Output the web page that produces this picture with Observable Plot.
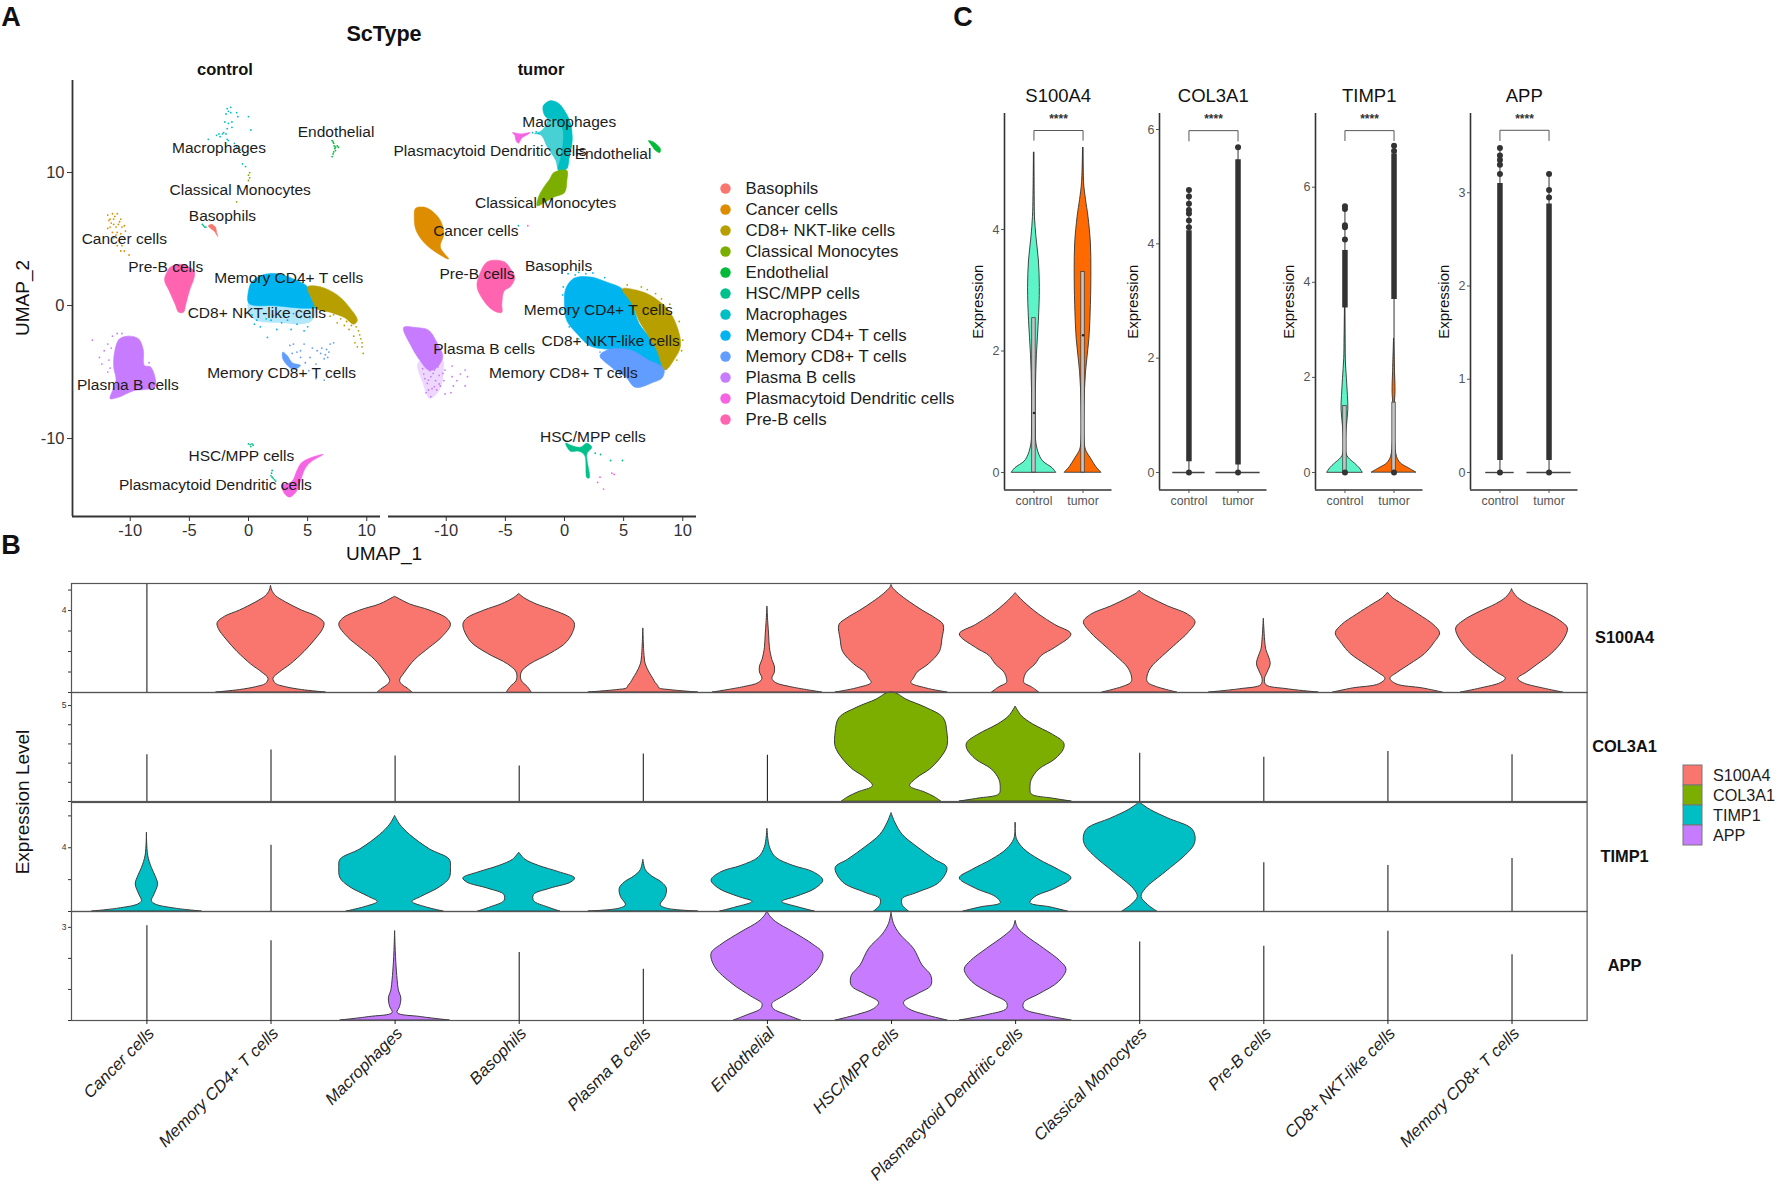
<!DOCTYPE html>
<html><head><meta charset="utf-8">
<script src="https://cdn.jsdelivr.net/npm/d3@7"></script>
<script src="https://cdn.jsdelivr.net/npm/@observablehq/plot@0.6"></script>
<style>html,body{margin:0;background:#fff}#fig{position:relative;width:1780px;height:1189px;overflow:hidden;font-family:"Liberation Sans",Arial,sans-serif}
svg{overflow:visible;background:none}.t{position:absolute;white-space:nowrap;color:#111;transform-origin:center}</style></head>
<body><div id="fig"></div>
<script>
const FONT='"Liberation Sans",Arial,sans-serif';
const cellTypes=["Basophils","Cancer cells","CD8+ NKT-like cells","Classical Monocytes","Endothelial","HSC/MPP cells","Macrophages","Memory CD4+ T cells","Memory CD8+ T cells","Plasma B cells","Plasmacytoid Dendritic cells","Pre-B cells"];
const cellColors=["#F8766D","#DE8C00","#B79F00","#7CAE00","#00BA38","#00C08B","#00BFC4","#00B4F0","#619CFF","#C77CFF","#F564E3","#FF64B0"];
const genes=["S100A4","COL3A1","TIMP1","APP"];
const geneColors=["#F8766D","#7CAE00","#00BFC4","#C77CFF"];
const violinOrder=["Cancer cells","Memory CD4+ T cells","Macrophages","Basophils","Plasma B cells","Endothelial","HSC/MPP cells","Plasmacytoid Dendritic cells","Classical Monocytes","Pre-B cells","CD8+ NKT-like cells","Memory CD8+ T cells"];
const groups=["control","tumor"];

// ---- panel A, control: dense cluster outlines (UMAP_1, UMAP_2)
const ctrlPreB=[[-6.6,2.9],[-5.7,3.1],[-4.6,2.6],[-4.6,2.1],[-5,1.1],[-5.3,.1],[-5.5,-.5],[-5.9,-.5],[-6.2,.1],[-6.7,1.1],[-7.1,1.9],[-6.9,2.5]];
const ctrlCD4=[[0,1.1],[.3,1.8],[1.2,2.3],[2.4,2.4],[3.8,2],[5,1.4],[5.3,.6],[5.8,-.1],[4.7,-.2],[3.3,-.1],[1.9,0],[.6,0],[0,.2]];
const ctrlCD4Haze=[[0,.3],[5.6,0],[5.3,-1.2],[2.5,-1.3],[.4,-1]];
const ctrlNKT=[[5,1.4],[6.1,1.4],[7.5,.8],[8.5,-.1],[9.2,-1.1],[8.9,-1.4],[8.1,-.9],[6.9,-.5],[5.8,-.25],[5.3,.6]];
const ctrlCD8=[[2.9,-3.5],[3.3,-3.8],[3.7,-4.3],[4.4,-4.5],[3.8,-4.8],[3.3,-4.5],[2.9,-4]];
const ctrlPlasma=[[-10.9,-2.5],[-10.1,-2.3],[-9.3,-2.5],[-8.9,-3.3],[-8.8,-4.5],[-8.3,-4.6],[-7.9,-5.4],[-7.9,-6.1],[-8.6,-6.3],[-9.7,-6.4],[-11,-6.9],[-11.7,-7],[-11.5,-6.4],[-11.2,-5.6],[-11.4,-4.6],[-11.3,-3.4]];
const ctrlBaso=[[-3.4,6],[-3.1,6.1],[-2.8,5.9],[-2.7,5.5],[-2.6,5.2],[-2.9,5.6],[-3.2,5.8]];
const ctrlPDC=[[6.3,-11.2],[5.2,-11.8],[4.7,-12.4],[4.4,-13.2],[4.1,-13.9],[3.5,-14.4],[3.1,-14.2],[2.8,-13.5],[3.3,-13.4],[3.7,-13.2],[4.1,-12.4],[4.5,-11.8],[5.4,-11.4]];
// ---- panel A, control: sparse cells
const ctrlMacroDots=[[-1.7,14.6],[-1.9,14.4],[-1.5,14.9],[-1.8,14.8],[-1.5,14.5],[-1,14.5],[-.9,14.2],[0,14.2],[-2,13.8],[-1.7,13.7],[-1.4,13.8],[-1.4,13.4],[-1.8,13.3],[-2.1,13],[-2.5,12.9],[-2.2,12.9],[-1.9,12.9],[-2.7,12.8],[-2.4,12.7],[-1.8,12.5],[-1.7,12.4],[-1.2,12.2],[-1,11.9],[-.7,11.7],[-.4,11.4],[-3.4,12.5],[.2,13.2],[-.5,10.65],[-.25,10.45]];
const ctrlMonoDots=[[0,9.8],[.1,10],[.1,9.6],[0,9.4],[-1,7.8]];
const ctrlEndoDots=[[7.07,12.4],[7.2,12.2],[7.35,11.9],[7.6,11.9],[7.35,11.65],[7.15,11.4],[7.07,11.2],[7.5,12],[7.25,12],[7.3,11.8],[7.2,11.55],[7.15,12.3]];
const ctrlCancerDots=[[-11.9,6.8],[-11.5,6.9],[-11.1,6.9],[-10.8,6.5],[-11.8,6.4],[-11.4,6.5],[-11,6.1],[-11.7,5.9],[-11.2,5.9],[-10.5,6],[-11.9,5.8],[-11.5,5.5],[-11.1,5.5],[-10.4,5.6],[-10.8,5.4],[-11.4,5.1],[-11,4.9],[-10.7,4.5],[-11.1,4.5],[-10.5,4.1],[-10.8,4.1],[-10.1,3.8],[-11.7,6.5],[-10.7,5.9],[-11.4,6.1],[-11.6,6.2],[-10.9,6.3],[-11.2,5.3],[-10.7,5],[-11.3,6.7]];
const ctrlHSCDots=[[-3.9,6.1],[-3.8,6],[-3.7,5.9],[-3.6,5.9],[0,-10.4],[.3,-10.4],[.2,-10.6],[.4,-10.5],[.15,-10.45],[2,-12.4],[1.9,-12.8],[2.1,-13],[2.3,-13.2],[1.95,-12.6],[2,-12.9],[2.2,-13.1]];
const ctrlCD4Dots=[[.5,-1.4],[1,-1.6],[1.9,-1.1],[3.3,-1.1],[4.7,-1.9],[5,-1.6],[.7,-1.1],[2.4,-1.8],[4.1,-1.4],[1.6,-2.4],[1.3,-.6],[5.2,-.9],[3,-.75],[3.8,-.6],[2.1,-.75],[.3,-.7],[1.5,-1],[2.8,-1.3],[3.6,-1.8],[4.4,-.9]];
const ctrlNKTDots=[[9.3,-1.9],[9.5,-2.5],[9.6,-3.1],[9.2,-3.1],[8.9,-2.3],[8.5,-1.8],[8.1,-1.5],[7.5,-1.3],[9.7,-3.6],[7.8,-1],[8.7,-1.5],[9.1,-1.6],[9.4,-2.2],[9,-2.8],[8.3,-1.2],[6.9,-.8],[7.2,-.7],[9.6,-2.8]];
const ctrlCD8Dots=[[3.5,-3],[4.1,-3.5],[4.7,-2.9],[5.2,-3.9],[6.1,-3.6],[6.6,-3.3],[6.9,-2.9],[6.4,-4],[6.8,-3.5],[7.2,-2.8],[5.7,-4.4],[5.1,-4.9],[5.7,-5.5],[6.4,-5.6],[5.8,-3.4],[3.8,-2.9],[4.4,-3.9],[4.8,-4.3],[4.4,-3.4],[3.7,-3.6],[6.5,-3.7],[6.2,-3.2],[6.7,-3.9],[5.4,-3.2]];
const ctrlPlasmaDots=[[-12.6,-3.9],[-12.2,-3.4],[-11.9,-2.9],[-11.5,-2.3],[-12.4,-4.4],[-11.8,-4.1],[-11.9,-5],[-13.2,-2.6],[-11.1,-2.1],[-10.7,-2.1],[-8.4,-4.3],[-11.6,-3.2],[-11.7,-4.7]];
// ---- panel A, tumor: dense cluster outlines
const tumMacroHaze=[[-1.8,15],[-1.2,15.4],[-.5,15.2],[.1,14.5],[.5,13.7],[.65,12.4],[.37,11],[.2,10.3],[-.5,10.15],[-.76,10.9],[-1.46,11.9],[-2,12.8],[-2.6,12.9],[-1.9,13.2],[-1.46,13.9],[-1.8,14.7]];
const tumMacro=[[-1.8,15],[-1.2,15.4],[-.5,15.2],[.1,14.5],[.5,13.7],[.65,12.4],[.37,11],[.2,10.3],[-.5,10.15],[-.3,11.2],[-.1,12.4],[-.2,13.4],[-.9,14],[-1.6,14.2]];
const tumPDC=[[-4.4,13],[-3.7,12.9],[-2.9,13],[-3.6,12.6],[-3.9,12.2],[-4.1,12.4],[-4.2,12.8]];
const tumEndo=[[7.1,12.4],[7.5,12.3],[8.1,11.8],[8.05,11.5],[7.7,11.65],[7.4,12]];
const tumMono=[[-.9,10],[.2,10.15],[.2,9.4],[0,8.5],[-.9,8.15],[-1.6,7.8],[-2.3,7.5],[-2.2,8.15],[-1.75,8.9],[-1.25,9.5]];
const tumCancer=[[-12.6,7.3],[-11.9,7.4],[-11.2,7.1],[-10.5,6.4],[-10.2,5.4],[-10.5,4.4],[-9.8,3.5],[-10.5,3.8],[-11.6,4.5],[-12.2,5.1],[-12.6,5.8],[-12.7,6.6]];
const tumPreB=[[-6.5,3.3],[-5.1,3.3],[-4.6,2.8],[-4.2,2.1],[-4.6,1.4],[-5.1,1.1],[-5.3,.1],[-5.3,-.5],[-5.7,-.5],[-6.4,-.1],[-7.2,.9],[-7.4,1.5],[-7.2,2.3]];
const tumCD4=[[.1,1.25],[.8,2.05],[2.2,2.15],[3.6,1.75],[4.9,1.25],[5.7,.15],[6.3,-1.35],[7.3,-2.55],[8.4,-4.65],[7,-4.25],[5.6,-3.65],[4.2,-3.35],[2.2,-3.05],[1.1,-2.15],[.2,-1.15],[0,.15]];
const tumNKT=[[4.9,1.25],[6.1,1.15],[7.3,.75],[8.7,-.25],[9.5,-1.55],[9.8,-3.05],[9.2,-4.15],[8.5,-4.85],[7.8,-3.35],[7,-2.15],[6.3,-1.15],[5.7,.15]];
const tumCD8=[[3,-3.75],[4,-3.25],[5.6,-3.35],[7,-4.05],[8.4,-4.75],[8.25,-5.45],[7.55,-5.75],[6,-6.15],[5.15,-5.35],[4,-4.65]];
const tumPlasma=[[-13.6,-1.65],[-12.6,-1.65],[-11.5,-1.85],[-10.8,-2.75],[-10.3,-3.85],[-10.9,-4.75],[-11.5,-4.85],[-12.2,-4.15],[-12.9,-3.15]];
const tumPlasmaHaze=[[-12.4,-4.3],[-10.4,-3.9],[-10.2,-4.9],[-10.6,-6.4],[-11.4,-7],[-12,-5.8]];
const tumHSC=[[.1,-10.35],[.65,-10.55],[1.35,-10.65],[1.9,-10.35],[2.3,-10.65],[1.9,-11.15],[2.1,-12.95],[1.9,-12.95],[1.7,-11.25],[1.2,-10.95],[.5,-10.95]];
// ---- panel A, tumor: sparse cells
const tumPlasmaDots=[[-11.9,-5.15],[-11.3,-5.35],[-10.9,-5.65],[-11.6,-5.85],[-11.2,-6.25],[-11.7,-6.55],[-11.3,-6.85],[-10.5,-6.05],[-10.1,-6.65],[-10.6,-5.25],[-10.1,-4.85],[-9.5,-5.35],[-9.1,-5.65],[-8.4,-4.85],[-8.2,-5.35],[-9.4,-6.05],[-9.5,-4.55],[-8.8,-5.15],[-10.2,-5.65],[-11.5,-6.35],[-11,-4.85],[-12,-4.75],[-10.8,-6.35],[-8.4,-6.05],[-9.6,-6.55],[-11.1,-5.1],[-11.5,-5.6],[-10.7,-4.6],[-10.3,-5.1],[-11.4,-4.9],[-11.8,-5.5],[-10.6,-5.9],[-11,-6.1]];
const tumHSCDots=[[2.6,-11.1],[3.05,-11.2],[3.9,-11.65],[4.9,-11.65]];
const tumPDCDots=[[4,-12.6],[4.2,-12.7],[3,-12.9],[2.8,-13.3],[3.3,-13.8],[-3.1,6]];
const tumMacroDots=[[-3.9,6],[-2.7,13],[-2.4,13.05],[-2.2,12.95]];
const tumCD8Dots=[[3.1,-3.9],[3.4,-4.1],[3.7,-4.3],[4.2,-4.8],[4.7,-5.2],[3,-3.5],[3.3,-3.6]];
const tumCD4Dots=[[.3,2.4],[1.2,2.5],[2.4,2.45],[3.4,2.1],[-.15,.8],[-.2,-.3],[.4,-1.6],[1.2,-2.5],[.9,2.3],[1.8,2.4],[-.1,1.4]];
const tumNKTDots=[[5.3,1.55],[6.5,1.4],[7.7,.9],[8.9,.1],[9.7,-1.2],[10,-2.6],[9.9,-3.4],[9.5,-4.1],[7,1.2],[8.2,.5]];
// ---- panel A labels
const labelNames=["Macrophages","Endothelial","Classical Monocytes","Basophils","Cancer cells","Pre-B cells","Memory CD4+ T cells","CD8+ NKT-like cells","Memory CD8+ T cells","Plasma B cells","HSC/MPP cells","Plasmacytoid Dendritic cells"];
const ctrlLabelX=[-2.5,7.4,-.7,-2.2,-10.5,-7,3.4,.7,2.8,-10.2,-.6,-2.8];
const ctrlLabelY=[11.85,13.05,8.7,6.7,5,2.9,2.1,-.6,-5.1,-6,-11.35,-13.5];
const tumLabelX=[.4,4.1,-1.6,-.5,-7.5,-7.4,2.85,3.9,-.1,-6.8,2.4,-6.3];
const tumLabelY=[13.8,11.4,7.7,2.95,5.6,2.4,-.3,-2.7,-5.05,-3.25,-9.85,11.6];

// ---- panel B: violins, [expression, half width in % of a category step]
const rowS100={
 1:[[0,44],[.12,25],[.26,12],[.42,4],[.67,2],[.97,7],[1.37,16],[1.98,27],[2.59,36],[3.09,42],[3.39,43],[3.7,37],[4,25],[4.4,12],[4.71,4],[4.97,1],[5.21,0]],
 2:[[0,14],[.2,10],[.36,6],[.57,4],[.97,8],[1.58,16],[2.18,28],[2.69,38],[3.29,45],[3.6,42],[4,28],[4.3,12],[4.61,2],[4.67,0]],
 3:[[0,10],[.26,7],[.57,2],[.97,2],[1.37,9],[1.88,25],[2.48,39],[3.29,45],[3.6,42],[4,28],[4.3,14],[4.61,4],[4.81,0]],
 4:[[0,44],[.12,21],[.2,13],[.32,12],[.46,10],[.67,8],[.97,5],[1.37,2],[1.78,1],[3.13,0]],
 5:[[0,44],[.26,19],[.46,7],[.67,4],[.97,6],[1.27,6],[1.58,4],[2.18,2],[2.79,1.4],[3.39,.7],[4.2,0]],
 6:[[0,45],[.2,28],[.46,16],[.67,18],[.97,21],[1.37,30],[1.98,39],[2.59,41],[3.29,42],[3.6,36],[4,25],[4.4,15],[4.81,6],[5.11,1],[5.25,0]],
 7:[[0,19],[.26,13],[.46,7],[.67,7],[.97,9],[1.37,16],[1.78,21],[2.18,32],[2.83,45],[3.29,32],[3.8,19],[4.4,7],[4.71,2],[4.85,0]],
 8:[[0,30],[.26,14],[.46,7],[.67,6],[1.17,9],[1.78,19],[2.38,30],[2.89,39],[3.43,45],[3.8,39],[4.2,23],[4.61,9],[4.85,2],[4.97,0]],
 9:[[0,44],[.16,19],[.36,2],[.67,1],[.97,3],[1.37,5.5],[1.68,4.5],[2.08,2],[2.59,1],[3.6,0]],
 10:[[0,44],[.2,28],[.4,7],[.67,2],[.97,8],[1.37,18],[1.88,30],[2.38,37],[2.89,42],[3.29,37],[3.8,25],[4.3,12],[4.61,4],[4.87,0]],
 11:[[0,41],[.2,25],[.46,9],[.67,5],[.97,12],[1.37,21],[1.88,32],[2.59,42],[3.13,45],[3.49,39],[3.9,27],[4.3,13],[4.61,5],[4.91,1],[5.05,0]]};
const rowCOL={
 6:[[0,40],[.22,35],[.47,27],[.8,15],[1.23,21],[1.66,31],[2.19,39],[2.84,45],[3.59,45],[4.34,42],[4.88,28],[5.31,12],[5.63,4],[5.68,0]],
 7:[[0,45],[.15,30],[.37,13],[.69,12],[1.12,13],[1.66,19],[2.19,32],[2.73,39],[3.05,39],[3.48,30],[4.02,14],[4.45,5],[4.95,0]]};
const rowTIMP={
 0:[[0,44],[.18,23],[.44,7],[.65,4],[1.04,6],[1.69,9],[2.21,7],[2.73,4],[3.51,1],[4.94,0]],
 2:[[0,39],[.26,25],[.6,14],[.91,21],[1.56,37],[2.08,44],[2.73,45],[3.25,44],[3.9,28],[4.81,12],[5.45,4],[6,0]],
 3:[[0,33],[.26,23],[.65,12],[1.04,12],[1.43,25],[1.82,42],[2.08,45],[2.47,32],[2.86,16],[3.25,5],[3.69,0]],
 4:[[0,44],[.18,19],[.39,14],[.91,18],[1.43,19],[1.82,15],[2.21,7],[2.6,2],[3.25,0]],
 5:[[0,38],[.26,25],[.6,12],[.91,23],[1.43,39],[1.95,45],[2.47,37],[2.86,21],[3.38,7],[4.03,2],[5.19,0]],
 6:[[0,14],[.39,9],[.78,9],[1.17,21],[1.82,39],[2.73,45],[3.25,35],[4.03,21],[4.81,9],[5.58,3],[6.18,0]],
 7:[[0,42],[.26,28],[.52,12],[.91,16],[1.43,32],[2.08,45],[2.6,35],[3.25,19],[3.9,7],[4.55,1],[5.58,0]],
 8:[[0,14],[.39,7],[.91,1.5],[1.43,5],[2.47,21],[3.51,37],[4.16,44],[4.68,45],[5.19,42],[5.84,23],[6.36,9],[6.75,1.5],[6.83,0]]};
const rowAPP={
 2:[[0,44],[.11,21],[.24,2],[.44,4],[.71,5],[.97,3],[1.31,2],[1.84,1],[2.24,.5],[2.88,0]],
 5:[[0,27],[.17,16],[.37,5],[.53,4],[.77,13],[1.17,28],[1.71,42],[2.15,45],[2.44,37],[2.84,21],[3.17,7],[3.37,2],[3.51,0]],
 6:[[0,45],[.17,28],[.37,14],[.57,10],[.84,21],[1.11,32],[1.44,32],[1.77,25],[2.31,18],[2.77,7],[3.11,2],[3.47,0]],
 7:[[0,45],[.17,23],[.37,7],[.57,7],[.84,19],[1.24,35],[1.64,41],[1.91,36],[2.31,23],[2.71,9],[2.97,2],[3.21,0]]};
const spikesS100=[[0,5.32]];
const spikesCOL=[[0,2.43],[1,2.69],[2,2.37],[3,1.85],[4,2.47],[5,2.41],[8,2.52],[9,2.3],[10,2.6],[11,2.43]];
const spikesTIMP=[[1,4.16],[9,3.06],[10,2.88],[11,3.32]];
const spikesAPP=[[0,3.05],[1,2.57],[3,2.19],[4,1.65],[8,2.53],[9,2.39],[10,2.87],[11,2.12]];

// ---- panel C
const violinS100Ctrl=[[0,45],[.07,38],[.18,19],[.29,11],[.48,5],[.71,4],[1.37,4],[1.93,6],[2.49,10],[3.04,12],[3.49,10],[3.88,5],[4.21,2],[4.55,1],[5.27,0]];
const violinS100Tum=[[0,37],[.09,27],[.23,16],[.37,6],[.54,3],[1.1,3],[1.65,6],[2.2,13],[2.76,16],[3.32,17],[3.77,16],[4.21,11],[4.49,6],[4.77,2],[5.35,0]];
const violinTIMPCtrl=[[0,36],[.09,30],[.19,20],[.3,8],[.4,3],[.69,2],[.97,4],[1.33,7],[1.61,6],[1.97,4],[2.39,1.5],[2.82,.8],[3.53,0]];
const violinTIMPTum=[[0,45],[.09,30],[.19,14],[.33,6],[.69,2],[1.4,1.5],[1.7,3],[2.11,2],[2.82,0]];
const boxS100=[[0,0,.98,2.54],[1,0,2.26,3.3]];
const boxTIMP=[[0,0,0,1.4],[1,0,0,1.47]];
const flatCOL=[[0,33],[1,45]];
const flatAPP=[[0,29],[1,45]];
const columnCOL=[[0,.19,4.23],[1,.13,5.47]];
const columnTIMP=[[0,3.46,4.67],[1,3.64,6.7]];
const columnAPP=[[0,.13,3.1],[1,.13,2.88]];
const outCOL=[[0,0],[1,0],[0,4.94],[0,4.83],[0,4.7],[0,4.59],[0,4.53],[0,4.41],[0,4.29],[1,5.69]];
const outTIMP=[[0,0],[1,0],[0,4.9],[0,5.16],[0,5.2],[0,5.54],[0,5.6],[1,6.87],[1,6.76]];
const outAPP=[[0,0],[1,0],[0,3.48],[0,3.4],[0,3.35],[0,3.3],[0,3.2],[1,3.2],[1,3.03],[1,2.95]];
const topCOL=[[0,4.94],[1,5.69]];
const topTIMP=[[0,5.6],[1,6.87]];
const topAPP=[[0,3.48],[1,3.2]];
const topS100=[[0,5.27],[1,5.35]];

const fig=document.getElementById("fig");
function place(el,left,top){el.style.position="absolute";el.style.left=left+"px";el.style.top=top+"px";fig.append(el);}
function label(txt,x,y,size,opt={}){const d=document.createElement("div");d.className="t";d.textContent=txt;d.style.left=x+"px";d.style.top=y+"px";d.style.fontSize=size+"px";if(opt.bold)d.style.fontWeight="bold";d.style.transform=`translate(-50%,-50%) rotate(${opt.rot||0}deg)`;fig.append(d);}
const base={style:{fontFamily:FONT,background:"none",overflow:"visible"}};

// Panel A
const uDomX=[-14.88,11.16],uDomY=[-15.86,16.92];
const table=(cat,pts)=>pts.map(([x,y])=>({cat,x,y}));
const ctrlHazes=[[table("Memory CD4+ T cells",ctrlCD4Haze),.3]];
const tumHazes=[[table("Macrophages",tumMacroHaze),.72],[table("Plasma B cells",tumPlasmaHaze),.3]];
const ctrlPolys=[["Pre-B cells",ctrlPreB],["Memory CD4+ T cells",ctrlCD4],["CD8+ NKT-like cells",ctrlNKT],["Memory CD8+ T cells",ctrlCD8],["Plasma B cells",ctrlPlasma],["Basophils",ctrlBaso],["Plasmacytoid Dendritic cells",ctrlPDC]].flatMap(([c,p])=>table(c,p));
const ctrlDots=[["Macrophages",ctrlMacroDots],["Classical Monocytes",ctrlMonoDots],["Endothelial",ctrlEndoDots],["Cancer cells",ctrlCancerDots],["HSC/MPP cells",ctrlHSCDots],["Memory CD4+ T cells",ctrlCD4Dots],["CD8+ NKT-like cells",ctrlNKTDots],["Memory CD8+ T cells",ctrlCD8Dots],["Plasma B cells",ctrlPlasmaDots]].flatMap(([c,p])=>table(c,p));
const tumPolys=[["Macrophages",tumMacro],["Plasmacytoid Dendritic cells",tumPDC],["Endothelial",tumEndo],["Classical Monocytes",tumMono],["Cancer cells",tumCancer],["Pre-B cells",tumPreB],["Memory CD4+ T cells",tumCD4],["CD8+ NKT-like cells",tumNKT],["Memory CD8+ T cells",tumCD8],["Plasma B cells",tumPlasma],["HSC/MPP cells",tumHSC]].flatMap(([c,p])=>table(c,p));
const tumDots=[["Plasma B cells",tumPlasmaDots],["HSC/MPP cells",tumHSCDots],["Plasmacytoid Dendritic cells",tumPDCDots],["Macrophages",tumMacroDots],["Memory CD8+ T cells",tumCD8Dots],["Memory CD4+ T cells",tumCD4Dots],["CD8+ NKT-like cells",tumNKTDots]].flatMap(([c,p])=>table(c,p));
function umap(hazes,polys,dots,lx,ly,left,mL,width,showY){
 const labels=labelNames.map((n,i)=>({n,x:lx[i],y:ly[i]}));
 return place(Plot.plot({...base,width,height:486,marginLeft:mL,marginRight:0,marginTop:10,marginBottom:40,
  x:{domain:uDomX,axis:null},y:{domain:uDomY,axis:null},color:{type:"ordinal",domain:cellTypes,range:cellColors},
  marks:[
   ...hazes.map(([d,op])=>Plot.line(d,{x:"x",y:"y",z:"cat",fill:"cat",fillOpacity:op,stroke:null,curve:"catmull-rom-closed"})),
   Plot.line(polys,{x:"x",y:"y",z:"cat",fill:"cat",stroke:"cat",strokeWidth:.6,curve:"catmull-rom-closed"}),
   Plot.dot(dots,{x:"x",y:"y",r:.9,fill:"cat",stroke:null}),
   Plot.text(labels,{x:"x",y:"y",text:"n",fontSize:15.5,fill:"#1c1c1c"}),
   Plot.ruleY([uDomY[0]],{stroke:"#333",strokeWidth:1.8}),
   showY?Plot.ruleX([uDomX[0]],{stroke:"#333",strokeWidth:1.8}):null,
   Plot.axisX({ticks:[-10,-5,0,5,10],tickSize:5,tickPadding:3,fontSize:16.5,label:null,color:"#333",tickFormat:d=>d}),
   showY?Plot.axisY({ticks:[-10,0,10],tickSize:5,tickPadding:3,fontSize:16.5,label:null,color:"#333",tickFormat:d=>d}):null
  ]}),left,70);
}
umap(ctrlHazes,ctrlPolys,ctrlDots,ctrlLabelX,ctrlLabelY,0,72,380,true);
umap(tumHazes,tumPolys,tumDots,tumLabelX,tumLabelY,388,0,308,false);
place(Plot.plot({...base,width:320,height:280,margin:0,x:{axis:null},y:{type:"point",domain:cellTypes,range:[14.5,251.8],padding:0,axis:null},color:{type:"ordinal",domain:cellTypes,range:cellColors},
 marks:[Plot.dot(cellTypes,{y:d=>d,frameAnchor:"left",dx:25,r:5.2,fill:d=>d,stroke:null}),
 Plot.text(cellTypes,{y:d=>d,text:d=>d,frameAnchor:"left",dx:45,textAnchor:"start",fontSize:16.8,fill:"#1c1c1c"})]}),700,170);

// Panel B
const bDomX=[-.6076,11.605];
function row(gene,shapes,spikes,domY,ticks,lab,top,last){
 const color=geneColors[genes.indexOf(gene)];
 const pts=Object.entries(shapes).flatMap(([i,s])=>s.map(([y,w])=>({i:+i,y,w})));
 const sp=spikes.map(([i,t])=>({i,t}));
 const h=last?1189-top:109;
 place(Plot.plot({...base,width:1700,height:h,marginLeft:71,marginRight:113.4,marginTop:0,marginBottom:h-109,
  x:{domain:bDomX,axis:null},y:{domain:domY,axis:null},
  marks:[
   Plot.ruleY([0],{stroke:"#222",strokeWidth:1}),
   Plot.ruleX(sp,{x:"i",y1:0,y2:"t",stroke:"#222",strokeWidth:1.1}),
   Plot.areaX(pts,{x1:d=>d.i-d.w/100,x2:d=>d.i+d.w/100,y:"y",z:"i",fill:color,stroke:"#3c3c3c",strokeWidth:1,curve:"catmull-rom"}),
   Plot.frame({stroke:"#555",strokeWidth:1.2}),
   Plot.axisY({ticks,tickSize:3,tickPadding:2,fontSize:8.5,label:null,color:"#333",tickFormat:d=>d===lab?String(d):""}),
   last?Plot.axisX({ticks:d3.range(12),tickFormat:()=>"",tickSize:4,label:null,color:"#222"}):null,
   last?Plot.text(violinOrder,{x:(d,i)=>i,y:()=>0,text:d=>d,dx:4.5,dy:10,rotate:-45,textAnchor:"end",lineAnchor:"middle",fontSize:16.7,fontStyle:"italic",fill:"#222"}):null,
   Plot.text([gene],{frameAnchor:"right",textAnchor:"middle",dx:37.5,text:d=>d,fontSize:16.4,fontWeight:"bold",fill:"#111"})
  ]}),0,top);
}
row("S100A4",rowS100,spikesS100,[0,5.32],[0,1,2,3,4,5],4,583,false);
row("COL3A1",rowCOL,spikesCOL,[0,5.68],[0,1,2,3,4,5],5,692.3,false);
row("TIMP1",rowTIMP,spikesTIMP,[0,6.84],[0,2,4,6],4,801.5,false);
row("APP",rowAPP,spikesAPP,[0,3.51],[0,1,2,3],3,910.5,true);
place(Plot.plot({...base,width:90,height:83,margin:0,x:{domain:[0,1],range:[0,19],axis:null},y:{type:"band",domain:genes,range:[0,83],padding:.02,axis:null},color:{type:"ordinal",domain:genes,range:geneColors},
 marks:[Plot.barX(genes,{x1:()=>0,x2:()=>1,y:d=>d,fill:d=>d,stroke:"#777",strokeWidth:1}),
 Plot.text(genes,{y:d=>d,text:d=>d,frameAnchor:"left",dx:29.5,textAnchor:"start",fontSize:16.2,fill:"#1c1c1c"})]}),1682.5,763);

// Panel C
function mini(gene,axisX,domY,ticks,bracket,o){
 const vio=[...(o.vc||[]).map(([y,w])=>({g:0,y,w})),...(o.vt||[]).map(([y,w])=>({g:1,y,w}))];
 const rowsOf=a=>(a||[]).map(([g,a1,a2,a3])=>({g,a1,a2,a3}));
 place(Plot.plot({...base,width:158,height:440,marginLeft:50,marginRight:.5,marginTop:33,marginBottom:30.5,
  x:{domain:[-.6,1.59],axis:null},y:{domain:domY,axis:null},
  color:{type:"ordinal",domain:groups,range:["#5DF5C8","#FF6A00"]},
  marks:[
   Plot.ruleX((o.top||[]).map(([g,t])=>({g,t})),{x:"g",y1:0,y2:"t",stroke:"#333",strokeWidth:1}),
   Plot.areaX(vio,{x1:d=>d.g-d.w/100,x2:d=>d.g+d.w/100,y:"y",z:"g",fill:d=>groups[d.g],stroke:"#333",strokeWidth:.9,curve:"catmull-rom"}),
   Plot.ruleY((o.flat||[]).map(([g,w])=>({g,w})),{y:()=>0,x1:d=>d.g-d.w/100,x2:d=>d.g+d.w/100,stroke:"#444",strokeWidth:1.4}),
   Plot.rect(rowsOf(o.box),{x1:d=>d.g-.035,x2:d=>d.g+.035,y1:"a1",y2:"a3",fill:"#c4c4c4",stroke:"#333",strokeWidth:.7}),
   Plot.ruleX(rowsOf(o.col),{x:"g",y1:"a1",y2:"a2",stroke:"#333",strokeWidth:5.5}),
   Plot.dot((o.out||[]).map(([g,v])=>({g,v})),{x:"g",y:"v",r:3,fill:"#333",stroke:null}),
   Plot.dot((o.box||[]).filter(b=>b[2]>0).map(([g,,m])=>({g,m})),{x:"g",y:"m",r:1.2,fill:"#222",stroke:null}),
   Plot.line([[0,bracket[0]],[0,bracket[1]],[1,bracket[1]],[1,bracket[0]]],{stroke:"#444",strokeWidth:.9}),
   Plot.text([gene],{x:.5,y:bracket[1],text:()=>"****",dy:-11,fontSize:12,fontWeight:"bold",fill:"#333"}),
   Plot.ruleX([-.6],{stroke:"#333",strokeWidth:1.6}),
   Plot.ruleY([domY[0]],{stroke:"#333",strokeWidth:1.6}),
   Plot.axisX({ticks:[0,1],tickFormat:i=>groups[i],tickSize:3.5,tickPadding:3,fontSize:12.3,label:null,color:"#555"}),
   Plot.axisY({ticks,tickSize:3,tickPadding:2,fontSize:12.5,label:null,color:"#555",tickFormat:d=>d}),
   Plot.text([gene],{frameAnchor:"top",lineAnchor:"middle",dy:-17,text:d=>d,fontSize:18.5,fill:"#111"}),
   Plot.text(["Expression"],{frameAnchor:"left",textAnchor:"middle",lineAnchor:"middle",dx:-26,rotate:-90,text:d=>d,fontSize:15,fill:"#111"})
  ]}),axisX-50,80);
}
mini("S100A4",1003.5,[-.288,5.91],[0,2,4],[5.47,5.63],{vc:violinS100Ctrl,vt:violinS100Tum,box:boxS100,top:topS100});
mini("COL3A1",1159,[-.306,6.28],[0,2,4,6],[5.8,5.98],{flat:flatCOL,col:columnCOL,out:outCOL,top:topCOL});
mini("TIMP1",1314.5,[-.368,7.55],[0,2,4,6],[6.98,7.19],{vc:violinTIMPCtrl,vt:violinTIMPTum,box:boxTIMP,col:columnTIMP,out:outTIMP,top:topTIMP});
mini("APP",1470,[-.1876,3.85],[0,1,2,3],[3.56,3.67],{flat:flatAPP,col:columnAPP,out:outAPP,top:topAPP});

// Page text
label("A",11,17,27,{bold:1});label("B",11,545,27,{bold:1});label("C",963,17,27,{bold:1});
label("ScType",384,34,21.6,{bold:1});label("control",225,69,16.5,{bold:1});label("tumor",541,69,16.5,{bold:1});
label("UMAP_1",384,554,19);label("UMAP_2",23,298,19,{rot:-90});label("Expression Level",23,802,19,{rot:-90});
</script></body></html>
